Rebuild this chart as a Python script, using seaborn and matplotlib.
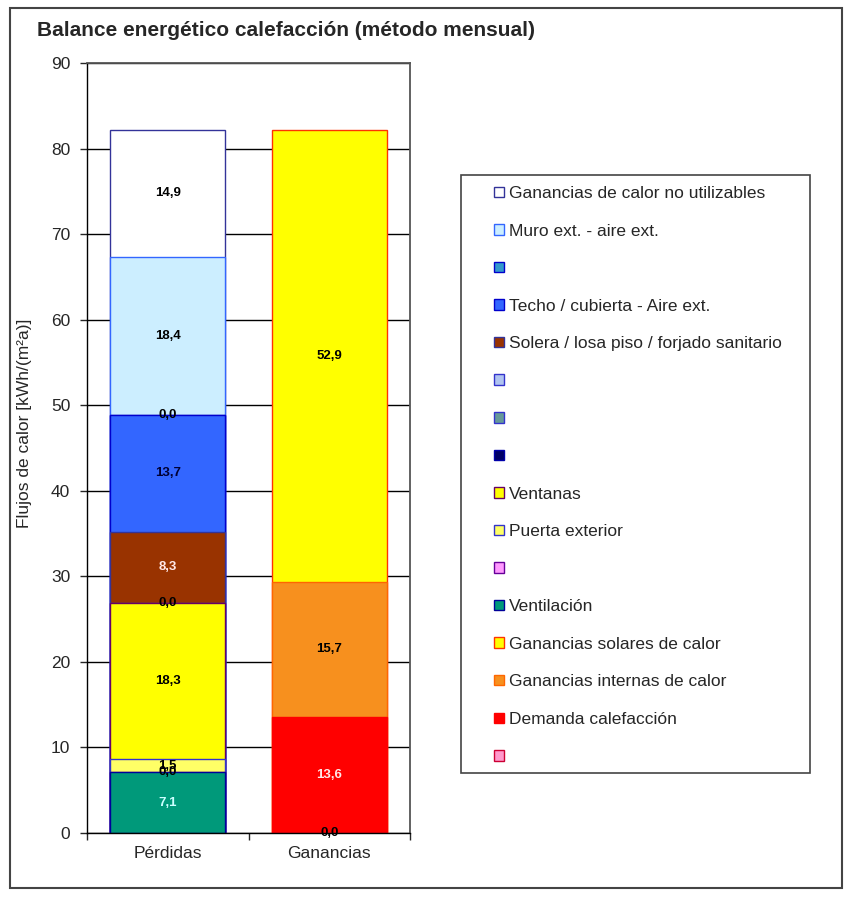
import numpy as np
import pandas as pd
import matplotlib
matplotlib.use("Agg")
import matplotlib.pyplot as plt
from matplotlib.patches import Patch, Rectangle
import seaborn as sns

# Data (stack order, bottom -> top); None = series not present on that bar
categories = ["Pérdidas", "Ganancias"]
series = [
    "",
    "Demanda calefacción",
    "Ganancias internas de calor",
    "Ganancias solares de calor",
    "Ventilación",
    "",
    "Puerta exterior",
    "Ventanas",
    "",
    "",
    "",
    "Solera / losa piso / forjado sanitario",
    "Techo / cubierta - Aire ext.",
    "",
    "Muro ext. - aire ext.",
    "Ganancias de calor no utilizables",
]
perdidas = [None, None, None, None, 7.1, 0.0, 1.5, 18.3, None, 0.0, None, 8.3, 13.7, 0.0, 18.4, 14.9]
ganancias = [0.0, 13.6, 15.7, 52.9, None, None, None, None, None, None, None, None, None, None, None, None]

fills = ["#FF99CC", "#FF0000", "#F7901E", "#FFFF00", "#00997A", "#FF99FF", "#FFFF66", "#FFFF00",
         "#000066", "#669999", "#B0C4F0", "#993300", "#3366FF", "#3399CC", "#CCEEFF", "#FFFFFF"]
edges = ["#CC0033", "#FF0000", "#FF6600", "#FF3300", "#000099", "#660099", "#3333CC", "#660066",
         "#0000AA", "#3333CC", "#3333CC", "#333399", "#0000CC", "#0000CC", "#3366FF", "#333399"]
label_colors = ["black", "#FFE8E8", "black", "black", "#CCFFFF", "black", "black", "black",
                "black", "black", "black", "#FFE8E8", "#000033", "black", "black", "black"]

sns.set_style("white")
plt.rcParams["font.family"] = ["Liberation Sans", "DejaVu Sans"]

fig = plt.figure(figsize=(8.51, 9), dpi=100)
ax = fig.add_axes([87 / 851, 1 - 833 / 900, 323 / 851, 770 / 900])

# cumulative tops per bar
vals = np.array([[np.nan if v is None else v for v in perdidas],
                 [np.nan if v is None else v for v in ganancias]])
tops = np.nancumsum(vals, axis=1)
bottoms = tops - np.nan_to_num(vals)

# draw stacked bars: top series first, lower series overlay them
for i in reversed(range(len(series))):
    h = [tops[j, i] if not np.isnan(vals[j, i]) else np.nan for j in range(2)]
    df = pd.DataFrame({"cat": categories, "val": h}).dropna()
    if df.empty:
        continue
    sns.barplot(data=df, x="cat", y="val", order=categories, color=fills[i],
                edgecolor=edges[i], linewidth=1, saturation=1, width=0.71,
                errorbar=None, ax=ax, zorder=2)

# value labels
for j in range(2):
    for i in range(len(series)):
        v = vals[j, i]
        if np.isnan(v):
            continue
        ax.text(j, bottoms[j, i] + v / 2, f"{v:.1f}".replace(".", ","),
                ha="center", va="center", fontsize=9.5, fontweight="bold",
                color=label_colors[i], zorder=5)

ax.set_ylim(0, 90)
ax.set_xlim(-0.5, 1.5)
ax.set_yticks(np.arange(0, 91, 10))
ax.yaxis.grid(True, color="black", linewidth=1)
ax.set_axisbelow(True)
ax.set_xlabel("")
ax.set_ylabel("Flujos de calor [kWh/(m²a)]", fontsize=12.5)
ax.yaxis.set_label_coords(-0.171, 0.532)
ax.tick_params(axis="y", length=5, width=1, pad=7, labelsize=12.5, left=True)
ax.tick_params(axis="x", which="major", length=0, pad=9, labelsize=12.5)
ax.set_xticks([-0.5, 0.5, 1.5], minor=True)
ax.tick_params(axis="x", which="minor", length=5, width=1, bottom=True)
for side in ["left", "bottom"]:
    ax.spines[side].set_color("black")
    ax.spines[side].set_linewidth(1)
for side in ["top", "right"]:
    ax.spines[side].set_color("#555555")
    ax.spines[side].set_linewidth(1.3)

# title
fig.text(37 / 851, 1 - 36 / 900, "Balance energético calefacción (método mensual)",
         fontsize=15, fontweight="bold", va="baseline", ha="left")

# legend (top -> bottom is reverse of stack order)
handles = [Patch(facecolor=fills[i], edgecolor=edges[i], linewidth=1, label=series[i])
           for i in reversed(range(len(series)))]
fig.patches.append(Rectangle((461 / 851, 1 - 773 / 900), 349 / 851, 598 / 900,
                             transform=fig.transFigure, fill=False,
                             edgecolor="#444444", linewidth=1.2))
fig.legend(handles=handles, loc="upper left", bbox_to_anchor=(494 / 851, 1 - 186 / 900),
           frameon=False, fontsize=12.5, borderpad=0, borderaxespad=0,
           handlelength=0.55, handleheight=0.55, handletextpad=0.3, labelspacing=1.3)

# outer frame
fig.patches.append(Rectangle((10 / 851, 1 - 888 / 900), 832 / 851, 880 / 900,
                             transform=fig.transFigure, fill=False,
                             edgecolor="#444444", linewidth=1.5))

fig.savefig("out.png", dpi=100)
